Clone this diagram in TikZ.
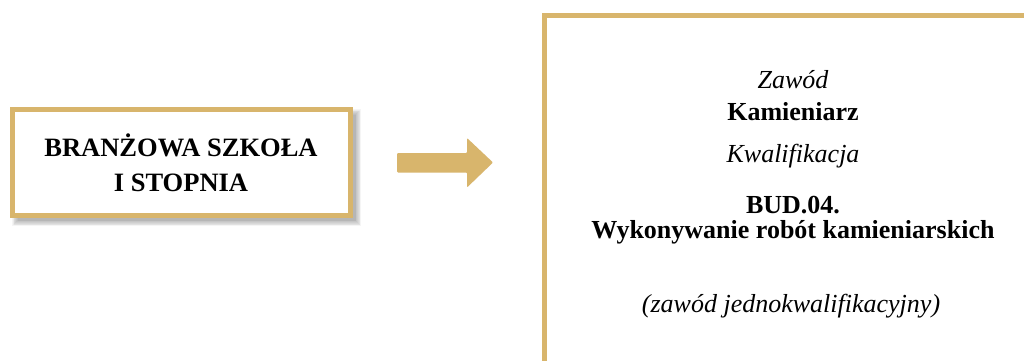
\documentclass[tikz,border=0pt]{standalone}
\usepackage{fontspec}
\setmainfont{Liberation Serif}
\definecolor{gold}{RGB}{216,181,108}
\tikzset{
  boxline/.style={draw=gold, line width=5pt},
  txt/.style={anchor=base, inner sep=0pt, font=\fontsize{26}{30}\selectfont},
  btxt/.style={txt, font=\fontsize{26}{30}\selectfont\bfseries},
  lbtxt/.style={txt, font=\fontsize{26.5}{30}\selectfont\bfseries},
  itxt/.style={txt, font=\fontsize{26}{30}\selectfont\itshape},
}
\begin{document}
\begin{tikzpicture}[x=1pt,y=1pt]
\useasboundingbox (0,0) rectangle (1024,360);
\clip (0,0) rectangle (1024,360);
\fill[white] (0,0) rectangle (1024,360);
% shadow of left box
\foreach \i in {0,...,7}{
  \fill[black, opacity=0.04] ({12.5+5-\i*0.8},{144.5-5-\i*0.8}) rectangle ({350.5+5+\i*0.8},{250.5-5+\i*0.8});
}
% left box
\node[boxline, fill=white, minimum width=338pt, minimum height=106pt, inner sep=0pt] (school) at (181.5,197.5) {};
\node[lbtxt] (t1) at (181,204) {BRANŻOWA SZKOŁA};
\node[lbtxt] (t2) at (181,169) {I STOPNIA};
% arrow
\coordinate (as) at (397,197.5);
\coordinate (ae) at (493,197.5);
\fill[gold, rounded corners=1pt] (as) ++(0,9.5) -- ++(70,0) -- ++(0,15) -- (ae) -- ++(-26,-25) -- ++(0,15) -- ++(-70,0) -- cycle;
% right box
\draw[boxline] (544.5,-20) -- (544.5,344.5) -- (1040,344.5);
% right texts
\node[itxt] (z1) at (793,272) {Zawód};
\node[btxt] (z2) at (793,240) {Kamieniarz};
\node[itxt] (k1) at (793,198) {Kwalifikacja};
\node[btxt] (k2) at (793,147) {BUD.04.};
\node[btxt] (k3) at (793,122) {Wykonywanie robót kamieniarskich};
\node[itxt] (n1) at (791,48) {(zawód jednokwalifikacyjny)};
\end{tikzpicture}
\end{document}
